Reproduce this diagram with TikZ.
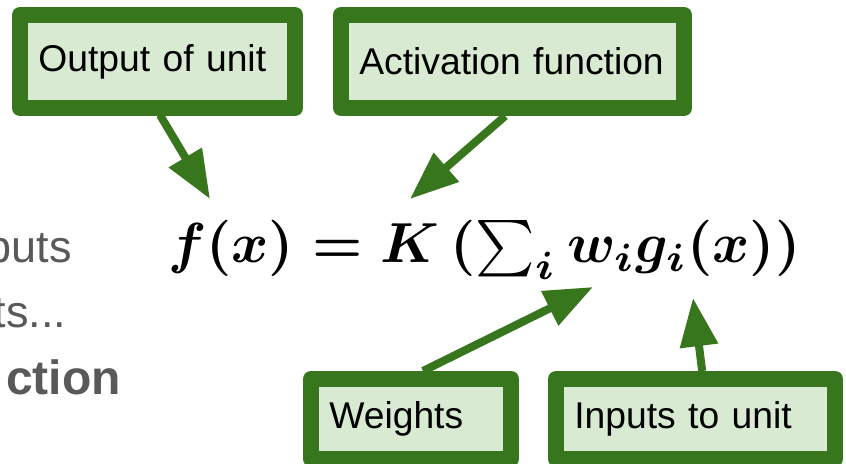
\documentclass[tikz,border=0pt]{standalone}
\usepackage{amsmath,amssymb}
\usepackage{graphicx}
\usepackage{fontspec}
\setmainfont{Liberation Sans}
\usepackage{tikz}
\usetikzlibrary{arrows.meta}
\definecolor{leaf}{RGB}{56,118,29}
\definecolor{mint}{RGB}{217,234,211}
\definecolor{slate}{RGB}{89,89,89}
\tikzset{
  tag/.style={draw=leaf,fill=mint,line width=0.48cm,line join=round,align=left,
    inner xsep=0.55cm,inner ysep=0pt,font=\fontsize{31.8}{38}\selectfont},
  side/.style={text=slate,inner sep=0pt,anchor=base east,font=\fontsize{38.4}{46}\selectfont},
  point/.style={-{Triangle[length=1.45cm,width=1.1cm]},draw=leaf,line width=0.24cm},
}

\begin{document}
\begin{tikzpicture}
  \useasboundingbox (0,0) rectangle (25.38,13.92);
  \node[side] (puts) at (2.16,6.03) {puts};
  \node[side] (dots) at (1.99,4.08) {ts...};
  \node[side,font=\fontsize{41}{48}\selectfont\bfseries] (fun) at (3.63,2.07) {ction};
  \node[anchor=base west,inner sep=0pt] (eq) at (5.04,6.03)
    {\resizebox{18.96cm}{!}{\boldmath$f(x) = K\,(\sum_i w_i g_i(x))$}};
  \coordinate (fx) at (6.3,7.95);
  \coordinate (kk) at (12.3,7.95);
  \coordinate (ww) at (17.79,5.31);
  \coordinate (gg) at (20.79,4.98);
  \draw[point] (4.8,10.47) coordinate (o1) -- (fx);
  \node[tag,text width=7.15cm,minimum height=2.79cm] (out) at (4.725,12.075) {Output of unit};
  \node[tag,text width=9.19cm,minimum height=2.79cm] (act) at (15.375,12.075) {Activation function};
  \node[tag,text width=4.9cm,minimum height=2.4cm] (wgt) at (12.33,1.35) {Weights};
  \node[tag,text width=7.27cm,minimum height=2.4cm] (inp) at (20.865,1.35) {Inputs to unit};
  \draw[point] ([xshift=-0.22cm]act.south) -- (kk);
  \draw[point] ([xshift=0.36cm]wgt.north) -- (ww);
  \draw[point] ([xshift=0.2cm]inp.north) -- (gg);
\end{tikzpicture}
\end{document}
